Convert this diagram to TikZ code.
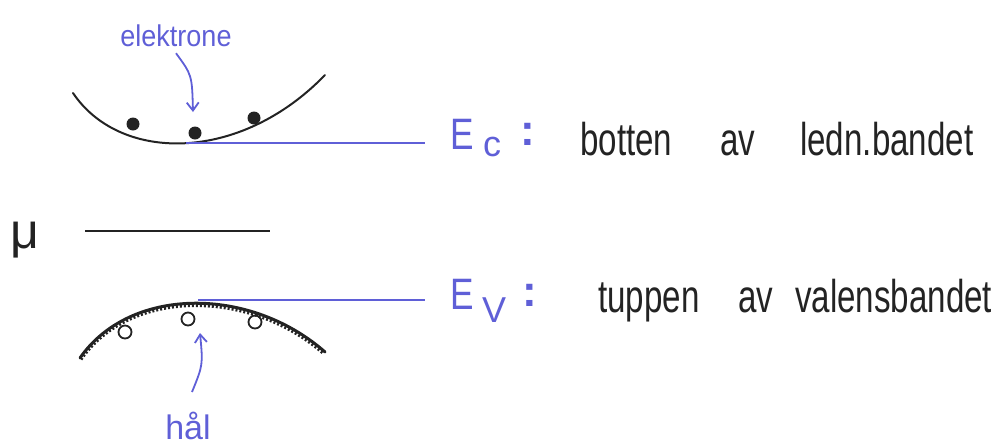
\documentclass[tikz,border=0pt]{standalone}
\usepackage{fontspec}
\setmainfont{Liberation Sans}
\usetikzlibrary{arrows.meta}
\definecolor{pen}{RGB}{95,95,215}
\definecolor{ink}{RGB}{35,35,35}
\newcommand{\narrow}[1]{\scalebox{0.72}[1]{#1}}
\tikzset{
  band/.style={draw=ink, line width=2pt, line cap=round},
  level/.style={draw=pen, line width=1.6pt},
  lbl/.style={text=pen, font=\fontsize{30}{34}\selectfont, inner sep=0pt},
  desc/.style={text=ink, font=\fontsize{46}{52}\selectfont, inner sep=0pt, anchor=base west},
  sym/.style={text=pen, font=\fontsize{44}{50}\selectfont, inner sep=0pt},
  pointer/.style={draw=pen, line width=1.8pt, -{Straight Barb[length=8pt,width=12pt]}},
  electron/.style={circle, fill=ink, minimum size=13pt, inner sep=0pt},
  hole/.style={circle, draw=ink, line width=1.8pt, minimum size=13pt, inner sep=0pt}
}
\begin{document}
\begin{tikzpicture}[x=1pt,y=-1pt]
\useasboundingbox (0,0) rectangle (999,445);
% conduction band
\coordinate (cl) at (73,93);
\coordinate (cr) at (325,75);
\coordinate (cmin) at (186,143);
\draw[band] (cl) .. controls (120,163) and (240,163) .. (cr);
\node[electron] (e1) at (133,124) {};
\node[electron] (e2) at (195,133) {};
\node[electron] (e3) at (254,118) {};
\coordinate (ecend) at (425,143);
\draw[level] (cmin) -- (ecend);
\node[sym, anchor=base west] (ec) at (450,149) {\scalebox{0.8}[1]{E}};
\node[sym, anchor=base west, font=\fontsize{36}{40}\selectfont] (ecs) at (483,156) {c};
\node[sym, anchor=base, font=\fontsize{44}{50}\bfseries] (ecc) at (528,145) {:};
\node[desc] (ect1) at (580,155) {\narrow{botten}};
\node[desc] (ect2) at (720,155) {\narrow{av}};
\node[desc] (ect3) at (800,155) {\narrow{ledn.bandet}};
% electrons label
\node[lbl] (el) at (176,36) {\scalebox{0.9}[1]{elektrone}};
\coordinate (eltip) at (193,112);
\draw[pointer] (el.south) ++(0,6) .. controls (192,75) .. (eltip);
% chemical potential
\node[font=\fontsize{50}{56}\selectfont, text=ink, inner sep=0pt] (mu) at (25,240) {μ};
\coordinate (ml) at (85,231);
\coordinate (mr) at (270,231);
\draw[draw=ink, line width=1.6pt] (ml) -- (mr);
% valence band
\coordinate (vl) at (80,358);
\coordinate (vr) at (325,352);
\draw[band, line width=3pt] (vl) .. controls (130,286) and (250,286) .. (vr);
\draw[draw=ink, line width=3pt, dash pattern=on 2pt off 2pt] (81,359.5) .. controls (130,288.5) and (250,288.5) .. (324,354);
\node[hole] (h1) at (125,332) {};
\node[hole] (h2) at (188,319) {};
\node[hole] (h3) at (255,322) {};
\coordinate (evstart) at (198,300);
\coordinate (evend) at (425,300);
\draw[level] (evstart) -- (evend);
\node[sym, anchor=base west] (ev) at (450,309) {\scalebox{0.8}[1]{E}};
\node[sym, anchor=base west, font=\fontsize{36}{40}\selectfont] (evs) at (482,322) {V};
\node[sym, anchor=base, font=\fontsize{44}{50}\bfseries] (evc) at (530,306) {:};
\node[desc] (evt1) at (598,312) {\narrow{tuppen}};
\node[desc] (evt2) at (738,312) {\narrow{av}};
\node[desc] (evt3) at (795,312) {\narrow{valensbandet}};
% hole label
\node[lbl, font=\fontsize{34}{38}\selectfont] (hl) at (188,426) {hål};
\coordinate (hltip) at (200,333);
\draw[pointer] (192,392) .. controls (203,365) .. (hltip);
\end{tikzpicture}
\end{document}
